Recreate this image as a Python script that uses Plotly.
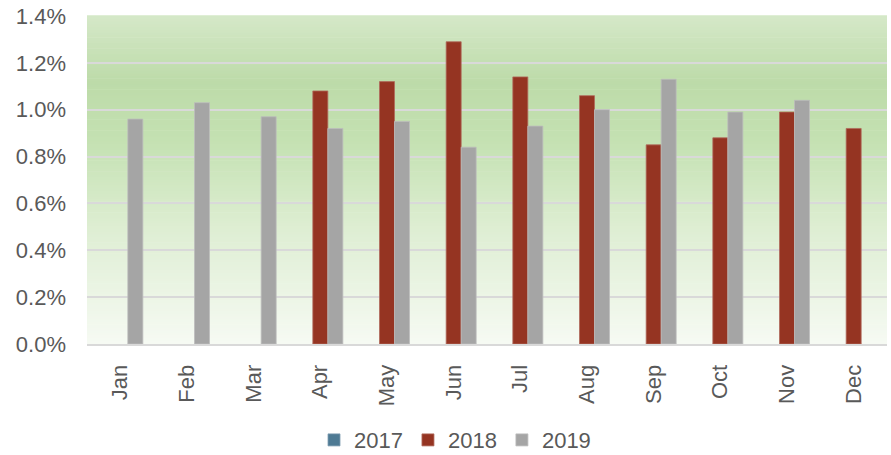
import plotly.graph_objects as go

months = ["Jan", "Feb", "Mar", "Apr", "May", "Jun",
          "Jul", "Aug", "Sep", "Oct", "Nov", "Dec"]
rate_2017 = [None] * 12
rate_2018 = [None, None, None, 0.0108, 0.0112, 0.0129,
             0.0114, 0.0106, 0.0085, 0.0088, 0.0099, 0.0092]
rate_2019 = [0.0096, 0.0103, 0.0097, 0.0092, 0.0095, 0.0084,
             0.0093, 0.0100, 0.0113, 0.0099, 0.0104, None]
y_ticks = [0.0, 0.002, 0.004, 0.006, 0.008, 0.010, 0.012, 0.014]

FONT = "Liberation Sans, Arial, sans-serif"
TEXT = "#595959"

fig = go.Figure()
for name, vals, col, edge in [
    ("2017", rate_2017, "#4e7a94", "#7e9cb0"),
    ("2018", rate_2018, "#953422", "#b06a5c"),
    ("2019", rate_2019, "#a5a5a5", "#bdbdbd"),
]:
    fig.add_trace(go.Bar(x=months, y=vals, name=name,
                         marker=dict(color=col, line=dict(color=edge, width=0.8))))

# vertical green gradient behind the plot area
stops = [(0.0, (246, 250, 243)), (0.35, (222, 238, 211)),
         (0.62, (196, 225, 178)), (0.80, (189, 219, 169)),
         (1.0, (213, 232, 200))]

def grad(t):
    for (t0, c0), (t1, c1) in zip(stops[:-1], stops[1:]):
        if t0 <= t <= t1:
            f = (t - t0) / (t1 - t0)
            return "rgb(%d,%d,%d)" % tuple(round(a + (b - a) * f) for a, b in zip(c0, c1))
    return "rgb(%d,%d,%d)" % stops[-1][1]

n = 120
shapes = []
for i in range(n):
    t = (i + 0.5) / n
    shapes.append(dict(type="rect", xref="paper", yref="paper",
                       x0=0, x1=1, y0=i / n, y1=(i + 1) / n + 0.002,
                       fillcolor=grad(t), line=dict(width=0), layer="below"))

fig.update_layout(
    width=891, height=455,
    margin=dict(l=87, r=4, t=16, b=111, autoexpand=False),
    paper_bgcolor="white", plot_bgcolor="rgba(0,0,0,0)",
    barmode="group", bargap=0.325, bargroupgap=0,
    shapes=shapes,
    font=dict(family=FONT, size=22, color=TEXT),
    showlegend=True,
    legend=dict(orientation="h", x=0.46, xanchor="center", y=-0.293, yanchor="middle",
                font=dict(size=22, color=TEXT), itemwidth=30, tracegroupgap=0),
)
fig.update_xaxes(tickangle=-90, showgrid=False, showline=True, linecolor="#d9d9d9",
                 linewidth=2, ticks="", ticklabelstandoff=10, automargin=False,
                 tickfont=dict(size=22, color=TEXT))
fig.update_yaxes(range=[0, 0.014], tickvals=y_ticks, tickformat=".1%",
                 showgrid=True, gridcolor="#d9d9d9", gridwidth=2,
                 zeroline=False, showline=False, ticks="", ticklabelstandoff=20,
                 automargin=False, tickfont=dict(size=22, color=TEXT))

fig.write_html("out.html")
